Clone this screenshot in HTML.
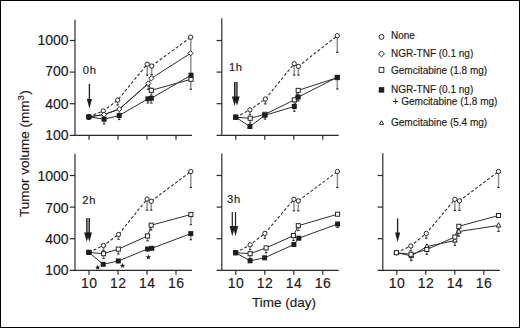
<!DOCTYPE html>
<html><head><meta charset="utf-8"><style>
html,body{margin:0;padding:0;background:#fff;}
#c{position:relative;width:520px;height:328px;box-sizing:border-box;border:1px solid #000;overflow:hidden;background:#fff;}
svg{position:absolute;left:-1px;top:-1px;}
text{font-family:"Liberation Sans",sans-serif;fill:#1a1a1a;stroke:#1a1a1a;stroke-width:0.15px;}
</style></head><body><div id="c">
<svg width="520" height="328" viewBox="0 0 520 328">
<line x1="75.00" y1="19.80" x2="75.00" y2="135.90" stroke="#2b2b2b" stroke-width="1.2" />
<line x1="69.80" y1="135.30" x2="192.00" y2="135.30" stroke="#2b2b2b" stroke-width="1.2" />
<line x1="69.80" y1="103.70" x2="75.00" y2="103.70" stroke="#2b2b2b" stroke-width="1.2" />
<line x1="69.80" y1="72.10" x2="75.00" y2="72.10" stroke="#2b2b2b" stroke-width="1.2" />
<line x1="69.80" y1="40.50" x2="75.00" y2="40.50" stroke="#2b2b2b" stroke-width="1.2" />
<line x1="89.00" y1="135.30" x2="89.00" y2="139.80" stroke="#2b2b2b" stroke-width="1.2" />
<line x1="118.00" y1="135.30" x2="118.00" y2="139.80" stroke="#2b2b2b" stroke-width="1.2" />
<line x1="147.00" y1="135.30" x2="147.00" y2="139.80" stroke="#2b2b2b" stroke-width="1.2" />
<line x1="176.00" y1="135.30" x2="176.00" y2="139.80" stroke="#2b2b2b" stroke-width="1.2" />
<text x="68.60" y="139.80" font-size="14" text-anchor="end" >100</text>
<text x="68.60" y="108.90" font-size="14" text-anchor="end" >400</text>
<text x="68.60" y="75.90" font-size="14" text-anchor="end" >700</text>
<text x="68.60" y="44.80" font-size="14" text-anchor="end" >1000</text>
<line x1="221.80" y1="18.20" x2="221.80" y2="135.90" stroke="#2b2b2b" stroke-width="1.2" />
<line x1="216.60" y1="135.30" x2="338.80" y2="135.30" stroke="#2b2b2b" stroke-width="1.2" />
<line x1="216.60" y1="103.70" x2="221.80" y2="103.70" stroke="#2b2b2b" stroke-width="1.2" />
<line x1="216.60" y1="72.10" x2="221.80" y2="72.10" stroke="#2b2b2b" stroke-width="1.2" />
<line x1="216.60" y1="40.50" x2="221.80" y2="40.50" stroke="#2b2b2b" stroke-width="1.2" />
<line x1="235.80" y1="135.30" x2="235.80" y2="139.80" stroke="#2b2b2b" stroke-width="1.2" />
<line x1="264.80" y1="135.30" x2="264.80" y2="139.80" stroke="#2b2b2b" stroke-width="1.2" />
<line x1="293.80" y1="135.30" x2="293.80" y2="139.80" stroke="#2b2b2b" stroke-width="1.2" />
<line x1="322.80" y1="135.30" x2="322.80" y2="139.80" stroke="#2b2b2b" stroke-width="1.2" />
<line x1="75.00" y1="153.80" x2="75.00" y2="270.90" stroke="#2b2b2b" stroke-width="1.2" />
<line x1="69.80" y1="270.30" x2="192.00" y2="270.30" stroke="#2b2b2b" stroke-width="1.2" />
<line x1="69.80" y1="238.70" x2="75.00" y2="238.70" stroke="#2b2b2b" stroke-width="1.2" />
<line x1="69.80" y1="207.10" x2="75.00" y2="207.10" stroke="#2b2b2b" stroke-width="1.2" />
<line x1="69.80" y1="175.50" x2="75.00" y2="175.50" stroke="#2b2b2b" stroke-width="1.2" />
<line x1="89.00" y1="270.30" x2="89.00" y2="274.80" stroke="#2b2b2b" stroke-width="1.2" />
<text x="89.20" y="287.70" font-size="14" text-anchor="middle" letter-spacing="0.4">10</text>
<line x1="118.00" y1="270.30" x2="118.00" y2="274.80" stroke="#2b2b2b" stroke-width="1.2" />
<text x="118.20" y="287.70" font-size="14" text-anchor="middle" letter-spacing="0.4">12</text>
<line x1="147.00" y1="270.30" x2="147.00" y2="274.80" stroke="#2b2b2b" stroke-width="1.2" />
<text x="147.20" y="287.70" font-size="14" text-anchor="middle" letter-spacing="0.4">14</text>
<line x1="176.00" y1="270.30" x2="176.00" y2="274.80" stroke="#2b2b2b" stroke-width="1.2" />
<text x="176.20" y="287.70" font-size="14" text-anchor="middle" letter-spacing="0.4">16</text>
<text x="68.60" y="275.40" font-size="14" text-anchor="end" >100</text>
<text x="68.60" y="244.00" font-size="14" text-anchor="end" >400</text>
<text x="68.60" y="212.50" font-size="14" text-anchor="end" >700</text>
<text x="68.60" y="181.00" font-size="14" text-anchor="end" >1000</text>
<line x1="221.80" y1="153.40" x2="221.80" y2="270.90" stroke="#2b2b2b" stroke-width="1.2" />
<line x1="216.60" y1="270.30" x2="338.80" y2="270.30" stroke="#2b2b2b" stroke-width="1.2" />
<line x1="216.60" y1="238.70" x2="221.80" y2="238.70" stroke="#2b2b2b" stroke-width="1.2" />
<line x1="216.60" y1="207.10" x2="221.80" y2="207.10" stroke="#2b2b2b" stroke-width="1.2" />
<line x1="216.60" y1="175.50" x2="221.80" y2="175.50" stroke="#2b2b2b" stroke-width="1.2" />
<line x1="235.80" y1="270.30" x2="235.80" y2="274.80" stroke="#2b2b2b" stroke-width="1.2" />
<text x="236.00" y="287.70" font-size="14" text-anchor="middle" letter-spacing="0.4">10</text>
<line x1="264.80" y1="270.30" x2="264.80" y2="274.80" stroke="#2b2b2b" stroke-width="1.2" />
<text x="265.00" y="287.70" font-size="14" text-anchor="middle" letter-spacing="0.4">12</text>
<line x1="293.80" y1="270.30" x2="293.80" y2="274.80" stroke="#2b2b2b" stroke-width="1.2" />
<text x="294.00" y="287.70" font-size="14" text-anchor="middle" letter-spacing="0.4">14</text>
<line x1="322.80" y1="270.30" x2="322.80" y2="274.80" stroke="#2b2b2b" stroke-width="1.2" />
<text x="323.00" y="287.70" font-size="14" text-anchor="middle" letter-spacing="0.4">16</text>
<line x1="382.80" y1="153.20" x2="382.80" y2="270.90" stroke="#2b2b2b" stroke-width="1.2" />
<line x1="377.60" y1="270.30" x2="499.80" y2="270.30" stroke="#2b2b2b" stroke-width="1.2" />
<line x1="377.60" y1="238.70" x2="382.80" y2="238.70" stroke="#2b2b2b" stroke-width="1.2" />
<line x1="377.60" y1="207.10" x2="382.80" y2="207.10" stroke="#2b2b2b" stroke-width="1.2" />
<line x1="377.60" y1="175.50" x2="382.80" y2="175.50" stroke="#2b2b2b" stroke-width="1.2" />
<line x1="396.80" y1="270.30" x2="396.80" y2="274.80" stroke="#2b2b2b" stroke-width="1.2" />
<text x="397.00" y="287.70" font-size="14" text-anchor="middle" letter-spacing="0.4">10</text>
<line x1="425.80" y1="270.30" x2="425.80" y2="274.80" stroke="#2b2b2b" stroke-width="1.2" />
<text x="426.00" y="287.70" font-size="14" text-anchor="middle" letter-spacing="0.4">12</text>
<line x1="454.80" y1="270.30" x2="454.80" y2="274.80" stroke="#2b2b2b" stroke-width="1.2" />
<text x="455.00" y="287.70" font-size="14" text-anchor="middle" letter-spacing="0.4">14</text>
<line x1="483.80" y1="270.30" x2="483.80" y2="274.80" stroke="#2b2b2b" stroke-width="1.2" />
<text x="484.00" y="287.70" font-size="14" text-anchor="middle" letter-spacing="0.4">16</text>
<line x1="147.20" y1="64.20" x2="147.20" y2="75.10" stroke="#909090" stroke-width="1.5" />
<line x1="146.00" y1="75.10" x2="148.40" y2="75.10" stroke="#333" stroke-width="1.2" />
<line x1="151.70" y1="66.00" x2="151.70" y2="74.70" stroke="#909090" stroke-width="1.5" />
<line x1="150.50" y1="74.70" x2="152.90" y2="74.70" stroke="#333" stroke-width="1.2" />
<line x1="148.30" y1="83.50" x2="148.30" y2="89.40" stroke="#909090" stroke-width="1.5" />
<line x1="147.10" y1="89.40" x2="149.50" y2="89.40" stroke="#333" stroke-width="1.2" />
<line x1="190.80" y1="37.20" x2="190.80" y2="89.30" stroke="#909090" stroke-width="1.5" />
<line x1="189.60" y1="89.30" x2="192.00" y2="89.30" stroke="#333" stroke-width="1.2" />
<line x1="104.10" y1="119.20" x2="104.10" y2="123.80" stroke="#909090" stroke-width="1.5" />
<line x1="102.90" y1="123.80" x2="105.30" y2="123.80" stroke="#333" stroke-width="1.2" />
<line x1="119.20" y1="115.60" x2="119.20" y2="119.50" stroke="#909090" stroke-width="1.5" />
<line x1="118.00" y1="119.50" x2="120.40" y2="119.50" stroke="#333" stroke-width="1.2" />
<line x1="147.90" y1="98.80" x2="147.90" y2="103.00" stroke="#909090" stroke-width="1.5" />
<line x1="146.70" y1="103.00" x2="149.10" y2="103.00" stroke="#333" stroke-width="1.2" />
<line x1="151.30" y1="98.30" x2="151.30" y2="103.00" stroke="#909090" stroke-width="1.5" />
<line x1="150.10" y1="103.00" x2="152.50" y2="103.00" stroke="#333" stroke-width="1.2" />
<line x1="103.30" y1="110.90" x2="103.30" y2="115.70" stroke="#909090" stroke-width="1.5" />
<line x1="102.10" y1="115.70" x2="104.50" y2="115.70" stroke="#333" stroke-width="1.2" />
<line x1="117.70" y1="100.10" x2="117.70" y2="104.90" stroke="#909090" stroke-width="1.5" />
<line x1="116.50" y1="104.90" x2="118.90" y2="104.90" stroke="#333" stroke-width="1.2" />
<line x1="151.30" y1="90.30" x2="151.30" y2="95.10" stroke="#909090" stroke-width="1.5" />
<line x1="150.10" y1="95.10" x2="152.50" y2="95.10" stroke="#333" stroke-width="1.2" />
<line x1="104.10" y1="114.60" x2="104.10" y2="119.40" stroke="#909090" stroke-width="1.5" />
<line x1="102.90" y1="119.40" x2="105.30" y2="119.40" stroke="#333" stroke-width="1.2" />
<line x1="119.30" y1="109.10" x2="119.30" y2="113.90" stroke="#909090" stroke-width="1.5" />
<line x1="118.10" y1="113.90" x2="120.50" y2="113.90" stroke="#333" stroke-width="1.2" />
<polyline points="88.80,116.90 103.30,110.90 117.70,100.10 147.20,64.20 151.70,66.00 190.70,37.20" fill="none" stroke="#2e2e2e" stroke-width="1.1" stroke-linejoin="round" stroke-dasharray="3 2"/>
<polyline points="88.80,116.90 104.10,114.60 119.30,109.10 148.30,83.50 151.30,90.30 191.00,79.30" fill="none" stroke="#2e2e2e" stroke-width="1.0" stroke-linejoin="round"/>
<polyline points="88.80,116.90 104.10,114.60 119.30,109.10 148.30,83.50 151.30,78.30 190.60,53.30" fill="none" stroke="#2e2e2e" stroke-width="1.0" stroke-linejoin="round"/>
<polyline points="88.80,116.90 104.10,119.20 119.20,115.60 147.90,98.80 151.30,98.30 191.00,75.20" fill="none" stroke="#2e2e2e" stroke-width="1.0" stroke-linejoin="round"/>
<circle cx="88.80" cy="116.90" r="2.15" fill="#fff" stroke="#1e1e1e" stroke-width="0.95"/>
<circle cx="103.30" cy="110.90" r="2.15" fill="#fff" stroke="#1e1e1e" stroke-width="0.95"/>
<circle cx="117.70" cy="100.10" r="2.15" fill="#fff" stroke="#1e1e1e" stroke-width="0.95"/>
<circle cx="147.20" cy="64.20" r="2.15" fill="#fff" stroke="#1e1e1e" stroke-width="0.95"/>
<circle cx="151.70" cy="66.00" r="2.15" fill="#fff" stroke="#1e1e1e" stroke-width="0.95"/>
<circle cx="190.70" cy="37.20" r="2.15" fill="#fff" stroke="#1e1e1e" stroke-width="0.95"/>
<rect x="149.25" y="88.25" width="4.10" height="4.10" fill="#fff" stroke="#1e1e1e" stroke-width="0.95"/>
<rect x="188.95" y="77.25" width="4.10" height="4.10" fill="#fff" stroke="#1e1e1e" stroke-width="0.95"/>
<path d="M88.80 114.30L91.40 116.90L88.80 119.50L86.20 116.90Z" fill="#fff" stroke="#1e1e1e" stroke-width="0.95"/>
<path d="M104.10 112.00L106.70 114.60L104.10 117.20L101.50 114.60Z" fill="#fff" stroke="#1e1e1e" stroke-width="0.95"/>
<path d="M119.30 106.50L121.90 109.10L119.30 111.70L116.70 109.10Z" fill="#fff" stroke="#1e1e1e" stroke-width="0.95"/>
<path d="M148.30 80.90L150.90 83.50L148.30 86.10L145.70 83.50Z" fill="#fff" stroke="#1e1e1e" stroke-width="0.95"/>
<path d="M151.30 75.70L153.90 78.30L151.30 80.90L148.70 78.30Z" fill="#fff" stroke="#1e1e1e" stroke-width="0.95"/>
<path d="M190.60 50.70L193.20 53.30L190.60 55.90L188.00 53.30Z" fill="#fff" stroke="#1e1e1e" stroke-width="0.95"/>
<rect x="86.30" y="114.40" width="5.00" height="5.00" fill="#1e1e1e"/>
<rect x="101.60" y="116.70" width="5.00" height="5.00" fill="#1e1e1e"/>
<rect x="116.70" y="113.10" width="5.00" height="5.00" fill="#1e1e1e"/>
<rect x="145.40" y="96.30" width="5.00" height="5.00" fill="#1e1e1e"/>
<rect x="148.80" y="95.80" width="5.00" height="5.00" fill="#1e1e1e"/>
<rect x="188.50" y="72.70" width="5.00" height="5.00" fill="#1e1e1e"/>
<circle cx="88.8" cy="116.9" r="2.8" fill="#1e1e1e"/>
<line x1="294.20" y1="63.70" x2="294.20" y2="75.10" stroke="#909090" stroke-width="1.5" />
<line x1="293.00" y1="75.10" x2="295.40" y2="75.10" stroke="#333" stroke-width="1.2" />
<line x1="298.40" y1="66.40" x2="298.40" y2="75.10" stroke="#909090" stroke-width="1.5" />
<line x1="297.20" y1="75.10" x2="299.60" y2="75.10" stroke="#333" stroke-width="1.2" />
<line x1="337.30" y1="35.70" x2="337.30" y2="52.30" stroke="#909090" stroke-width="1.5" />
<line x1="336.10" y1="52.30" x2="338.50" y2="52.30" stroke="#333" stroke-width="1.2" />
<line x1="337.30" y1="77.30" x2="337.30" y2="89.00" stroke="#909090" stroke-width="1.5" />
<line x1="336.10" y1="89.00" x2="338.50" y2="89.00" stroke="#333" stroke-width="1.2" />
<line x1="294.30" y1="106.50" x2="294.30" y2="111.30" stroke="#909090" stroke-width="1.5" />
<line x1="293.10" y1="111.30" x2="295.50" y2="111.30" stroke="#333" stroke-width="1.2" />
<line x1="298.30" y1="97.10" x2="298.30" y2="101.00" stroke="#909090" stroke-width="1.5" />
<line x1="297.10" y1="101.00" x2="299.50" y2="101.00" stroke="#333" stroke-width="1.2" />
<line x1="249.90" y1="109.90" x2="249.90" y2="114.70" stroke="#909090" stroke-width="1.5" />
<line x1="248.70" y1="114.70" x2="251.10" y2="114.70" stroke="#333" stroke-width="1.2" />
<line x1="265.30" y1="99.10" x2="265.30" y2="103.90" stroke="#909090" stroke-width="1.5" />
<line x1="264.10" y1="103.90" x2="266.50" y2="103.90" stroke="#333" stroke-width="1.2" />
<line x1="250.20" y1="118.30" x2="250.20" y2="123.10" stroke="#909090" stroke-width="1.5" />
<line x1="249.00" y1="123.10" x2="251.40" y2="123.10" stroke="#333" stroke-width="1.2" />
<line x1="265.00" y1="114.30" x2="265.00" y2="119.10" stroke="#909090" stroke-width="1.5" />
<line x1="263.80" y1="119.10" x2="266.20" y2="119.10" stroke="#333" stroke-width="1.2" />
<line x1="294.30" y1="99.90" x2="294.30" y2="104.70" stroke="#909090" stroke-width="1.5" />
<line x1="293.10" y1="104.70" x2="295.50" y2="104.70" stroke="#333" stroke-width="1.2" />
<line x1="298.20" y1="90.40" x2="298.20" y2="95.20" stroke="#909090" stroke-width="1.5" />
<line x1="297.00" y1="95.20" x2="299.40" y2="95.20" stroke="#333" stroke-width="1.2" />
<polyline points="235.70,117.20 249.90,109.90 265.30,99.10 294.20,63.70 298.40,66.40 337.30,35.70" fill="none" stroke="#2e2e2e" stroke-width="1.1" stroke-linejoin="round" stroke-dasharray="3 2"/>
<polyline points="235.70,117.20 250.20,118.30 265.00,114.30 294.30,99.90 298.20,90.40 337.30,77.60" fill="none" stroke="#2e2e2e" stroke-width="1.0" stroke-linejoin="round"/>
<polyline points="235.70,117.20 249.90,126.50 264.80,115.30 294.30,106.50 298.20,97.10 337.30,77.30" fill="none" stroke="#2e2e2e" stroke-width="1.0" stroke-linejoin="round"/>
<circle cx="235.70" cy="117.20" r="2.15" fill="#fff" stroke="#1e1e1e" stroke-width="0.95"/>
<circle cx="249.90" cy="109.90" r="2.15" fill="#fff" stroke="#1e1e1e" stroke-width="0.95"/>
<circle cx="265.30" cy="99.10" r="2.15" fill="#fff" stroke="#1e1e1e" stroke-width="0.95"/>
<circle cx="294.20" cy="63.70" r="2.15" fill="#fff" stroke="#1e1e1e" stroke-width="0.95"/>
<circle cx="298.40" cy="66.40" r="2.15" fill="#fff" stroke="#1e1e1e" stroke-width="0.95"/>
<circle cx="337.30" cy="35.70" r="2.15" fill="#fff" stroke="#1e1e1e" stroke-width="0.95"/>
<rect x="233.65" y="115.15" width="4.10" height="4.10" fill="#fff" stroke="#1e1e1e" stroke-width="0.95"/>
<rect x="248.15" y="116.25" width="4.10" height="4.10" fill="#fff" stroke="#1e1e1e" stroke-width="0.95"/>
<rect x="262.95" y="112.25" width="4.10" height="4.10" fill="#fff" stroke="#1e1e1e" stroke-width="0.95"/>
<rect x="292.25" y="97.85" width="4.10" height="4.10" fill="#fff" stroke="#1e1e1e" stroke-width="0.95"/>
<rect x="296.15" y="88.35" width="4.10" height="4.10" fill="#fff" stroke="#1e1e1e" stroke-width="0.95"/>
<rect x="335.25" y="75.55" width="4.10" height="4.10" fill="#fff" stroke="#1e1e1e" stroke-width="0.95"/>
<rect x="233.20" y="114.70" width="5.00" height="5.00" fill="#1e1e1e"/>
<rect x="247.40" y="124.00" width="5.00" height="5.00" fill="#1e1e1e"/>
<rect x="262.30" y="112.80" width="5.00" height="5.00" fill="#1e1e1e"/>
<rect x="291.80" y="104.00" width="5.00" height="5.00" fill="#1e1e1e"/>
<rect x="295.70" y="94.60" width="5.00" height="5.00" fill="#1e1e1e"/>
<rect x="334.80" y="74.80" width="5.00" height="5.00" fill="#1e1e1e"/>
<line x1="147.10" y1="199.10" x2="147.10" y2="210.10" stroke="#909090" stroke-width="1.5" />
<line x1="145.90" y1="210.10" x2="148.30" y2="210.10" stroke="#333" stroke-width="1.2" />
<line x1="151.20" y1="201.30" x2="151.20" y2="210.10" stroke="#909090" stroke-width="1.5" />
<line x1="150.00" y1="210.10" x2="152.40" y2="210.10" stroke="#333" stroke-width="1.2" />
<line x1="190.80" y1="171.50" x2="190.80" y2="187.50" stroke="#909090" stroke-width="1.5" />
<line x1="189.60" y1="187.50" x2="192.00" y2="187.50" stroke="#333" stroke-width="1.2" />
<line x1="190.90" y1="214.50" x2="190.90" y2="224.60" stroke="#909090" stroke-width="1.5" />
<line x1="189.70" y1="224.60" x2="192.10" y2="224.60" stroke="#333" stroke-width="1.2" />
<line x1="190.80" y1="233.60" x2="190.80" y2="239.70" stroke="#909090" stroke-width="1.5" />
<line x1="189.60" y1="239.70" x2="192.00" y2="239.70" stroke="#333" stroke-width="1.2" />
<line x1="103.50" y1="245.50" x2="103.50" y2="250.30" stroke="#909090" stroke-width="1.5" />
<line x1="102.30" y1="250.30" x2="104.70" y2="250.30" stroke="#333" stroke-width="1.2" />
<line x1="118.50" y1="234.50" x2="118.50" y2="239.30" stroke="#909090" stroke-width="1.5" />
<line x1="117.30" y1="239.30" x2="119.70" y2="239.30" stroke="#333" stroke-width="1.2" />
<line x1="103.60" y1="253.70" x2="103.60" y2="258.50" stroke="#909090" stroke-width="1.5" />
<line x1="102.40" y1="258.50" x2="104.80" y2="258.50" stroke="#333" stroke-width="1.2" />
<line x1="118.30" y1="249.10" x2="118.30" y2="253.90" stroke="#909090" stroke-width="1.5" />
<line x1="117.10" y1="253.90" x2="119.50" y2="253.90" stroke="#333" stroke-width="1.2" />
<line x1="147.60" y1="236.00" x2="147.60" y2="240.80" stroke="#909090" stroke-width="1.5" />
<line x1="146.40" y1="240.80" x2="148.80" y2="240.80" stroke="#333" stroke-width="1.2" />
<line x1="151.20" y1="225.20" x2="151.20" y2="230.00" stroke="#909090" stroke-width="1.5" />
<line x1="150.00" y1="230.00" x2="152.40" y2="230.00" stroke="#333" stroke-width="1.2" />
<polyline points="88.90,252.40 103.50,245.50 118.50,234.50 147.10,199.10 151.20,201.30 190.80,171.50" fill="none" stroke="#2e2e2e" stroke-width="1.1" stroke-linejoin="round" stroke-dasharray="3 2"/>
<polyline points="88.90,252.40 103.60,253.70 118.30,249.10 147.60,236.00 151.20,225.20 190.90,214.50" fill="none" stroke="#2e2e2e" stroke-width="1.0" stroke-linejoin="round"/>
<polyline points="88.90,252.40 103.20,264.30 118.30,261.00 147.60,249.00 151.80,248.30 190.80,233.60" fill="none" stroke="#2e2e2e" stroke-width="1.0" stroke-linejoin="round"/>
<circle cx="88.90" cy="252.40" r="2.15" fill="#fff" stroke="#1e1e1e" stroke-width="0.95"/>
<circle cx="103.50" cy="245.50" r="2.15" fill="#fff" stroke="#1e1e1e" stroke-width="0.95"/>
<circle cx="118.50" cy="234.50" r="2.15" fill="#fff" stroke="#1e1e1e" stroke-width="0.95"/>
<circle cx="147.10" cy="199.10" r="2.15" fill="#fff" stroke="#1e1e1e" stroke-width="0.95"/>
<circle cx="151.20" cy="201.30" r="2.15" fill="#fff" stroke="#1e1e1e" stroke-width="0.95"/>
<circle cx="190.80" cy="171.50" r="2.15" fill="#fff" stroke="#1e1e1e" stroke-width="0.95"/>
<rect x="86.85" y="250.35" width="4.10" height="4.10" fill="#fff" stroke="#1e1e1e" stroke-width="0.95"/>
<rect x="101.55" y="251.65" width="4.10" height="4.10" fill="#fff" stroke="#1e1e1e" stroke-width="0.95"/>
<rect x="116.25" y="247.05" width="4.10" height="4.10" fill="#fff" stroke="#1e1e1e" stroke-width="0.95"/>
<rect x="145.55" y="233.95" width="4.10" height="4.10" fill="#fff" stroke="#1e1e1e" stroke-width="0.95"/>
<rect x="149.15" y="223.15" width="4.10" height="4.10" fill="#fff" stroke="#1e1e1e" stroke-width="0.95"/>
<rect x="188.85" y="212.45" width="4.10" height="4.10" fill="#fff" stroke="#1e1e1e" stroke-width="0.95"/>
<rect x="86.40" y="249.90" width="5.00" height="5.00" fill="#1e1e1e"/>
<rect x="100.70" y="261.80" width="5.00" height="5.00" fill="#1e1e1e"/>
<rect x="115.80" y="258.50" width="5.00" height="5.00" fill="#1e1e1e"/>
<rect x="145.10" y="246.50" width="5.00" height="5.00" fill="#1e1e1e"/>
<rect x="149.30" y="245.80" width="5.00" height="5.00" fill="#1e1e1e"/>
<rect x="188.30" y="231.10" width="5.00" height="5.00" fill="#1e1e1e"/>
<path d="M97.70 264.70L98.39 266.55L100.36 266.63L98.82 267.86L99.35 269.77L97.70 268.68L96.05 269.77L96.58 267.86L95.04 266.63L97.01 266.55Z" fill="#1e1e1e"/>
<path d="M122.50 263.00L123.19 264.85L125.16 264.93L123.62 266.16L124.15 268.07L122.50 266.98L120.85 268.07L121.38 266.16L119.84 264.93L121.81 264.85Z" fill="#1e1e1e"/>
<path d="M148.30 254.40L148.99 256.25L150.96 256.33L149.42 257.56L149.95 259.47L148.30 258.38L146.65 259.47L147.18 257.56L145.64 256.33L147.61 256.25Z" fill="#1e1e1e"/>
<line x1="293.90" y1="199.30" x2="293.90" y2="210.80" stroke="#909090" stroke-width="1.5" />
<line x1="292.70" y1="210.80" x2="295.10" y2="210.80" stroke="#333" stroke-width="1.2" />
<line x1="298.30" y1="200.90" x2="298.30" y2="210.80" stroke="#909090" stroke-width="1.5" />
<line x1="297.10" y1="210.80" x2="299.50" y2="210.80" stroke="#333" stroke-width="1.2" />
<line x1="337.40" y1="171.50" x2="337.40" y2="187.50" stroke="#909090" stroke-width="1.5" />
<line x1="336.20" y1="187.50" x2="338.60" y2="187.50" stroke="#333" stroke-width="1.2" />
<line x1="337.60" y1="224.00" x2="337.60" y2="227.50" stroke="#909090" stroke-width="1.5" />
<line x1="336.40" y1="227.50" x2="338.80" y2="227.50" stroke="#333" stroke-width="1.2" />
<line x1="250.10" y1="244.80" x2="250.10" y2="249.60" stroke="#909090" stroke-width="1.5" />
<line x1="248.90" y1="249.60" x2="251.30" y2="249.60" stroke="#333" stroke-width="1.2" />
<line x1="264.90" y1="233.40" x2="264.90" y2="238.20" stroke="#909090" stroke-width="1.5" />
<line x1="263.70" y1="238.20" x2="266.10" y2="238.20" stroke="#333" stroke-width="1.2" />
<line x1="250.10" y1="253.70" x2="250.10" y2="258.50" stroke="#909090" stroke-width="1.5" />
<line x1="248.90" y1="258.50" x2="251.30" y2="258.50" stroke="#333" stroke-width="1.2" />
<line x1="266.10" y1="247.90" x2="266.10" y2="252.70" stroke="#909090" stroke-width="1.5" />
<line x1="264.90" y1="252.70" x2="267.30" y2="252.70" stroke="#333" stroke-width="1.2" />
<line x1="293.50" y1="235.60" x2="293.50" y2="240.40" stroke="#909090" stroke-width="1.5" />
<line x1="292.30" y1="240.40" x2="294.70" y2="240.40" stroke="#333" stroke-width="1.2" />
<line x1="298.30" y1="225.70" x2="298.30" y2="230.50" stroke="#909090" stroke-width="1.5" />
<line x1="297.10" y1="230.50" x2="299.50" y2="230.50" stroke="#333" stroke-width="1.2" />
<polyline points="235.60,252.70 250.10,244.80 264.90,233.40 293.90,199.30 298.30,200.90 337.40,171.50" fill="none" stroke="#2e2e2e" stroke-width="1.1" stroke-linejoin="round" stroke-dasharray="3 2"/>
<polyline points="235.60,252.70 250.10,253.70 266.10,247.90 293.50,235.60 298.30,225.70 337.60,214.20" fill="none" stroke="#2e2e2e" stroke-width="1.0" stroke-linejoin="round"/>
<polyline points="235.60,252.70 250.10,260.80 264.60,257.80 293.90,244.50 298.80,238.20 337.60,224.00" fill="none" stroke="#2e2e2e" stroke-width="1.0" stroke-linejoin="round"/>
<circle cx="235.60" cy="252.70" r="2.15" fill="#fff" stroke="#1e1e1e" stroke-width="0.95"/>
<circle cx="250.10" cy="244.80" r="2.15" fill="#fff" stroke="#1e1e1e" stroke-width="0.95"/>
<circle cx="264.90" cy="233.40" r="2.15" fill="#fff" stroke="#1e1e1e" stroke-width="0.95"/>
<circle cx="293.90" cy="199.30" r="2.15" fill="#fff" stroke="#1e1e1e" stroke-width="0.95"/>
<circle cx="298.30" cy="200.90" r="2.15" fill="#fff" stroke="#1e1e1e" stroke-width="0.95"/>
<circle cx="337.40" cy="171.50" r="2.15" fill="#fff" stroke="#1e1e1e" stroke-width="0.95"/>
<rect x="233.55" y="250.65" width="4.10" height="4.10" fill="#fff" stroke="#1e1e1e" stroke-width="0.95"/>
<rect x="248.05" y="251.65" width="4.10" height="4.10" fill="#fff" stroke="#1e1e1e" stroke-width="0.95"/>
<rect x="264.05" y="245.85" width="4.10" height="4.10" fill="#fff" stroke="#1e1e1e" stroke-width="0.95"/>
<rect x="291.45" y="233.55" width="4.10" height="4.10" fill="#fff" stroke="#1e1e1e" stroke-width="0.95"/>
<rect x="296.25" y="223.65" width="4.10" height="4.10" fill="#fff" stroke="#1e1e1e" stroke-width="0.95"/>
<rect x="335.55" y="212.15" width="4.10" height="4.10" fill="#fff" stroke="#1e1e1e" stroke-width="0.95"/>
<rect x="233.10" y="250.20" width="5.00" height="5.00" fill="#1e1e1e"/>
<rect x="247.60" y="258.30" width="5.00" height="5.00" fill="#1e1e1e"/>
<rect x="262.10" y="255.30" width="5.00" height="5.00" fill="#1e1e1e"/>
<rect x="291.40" y="242.00" width="5.00" height="5.00" fill="#1e1e1e"/>
<rect x="296.30" y="235.70" width="5.00" height="5.00" fill="#1e1e1e"/>
<rect x="335.10" y="221.50" width="5.00" height="5.00" fill="#1e1e1e"/>
<line x1="454.90" y1="199.30" x2="454.90" y2="210.40" stroke="#909090" stroke-width="1.5" />
<line x1="453.70" y1="210.40" x2="456.10" y2="210.40" stroke="#333" stroke-width="1.2" />
<line x1="459.40" y1="200.90" x2="459.40" y2="210.40" stroke="#909090" stroke-width="1.5" />
<line x1="458.20" y1="210.40" x2="460.60" y2="210.40" stroke="#333" stroke-width="1.2" />
<line x1="498.50" y1="171.50" x2="498.50" y2="187.50" stroke="#909090" stroke-width="1.5" />
<line x1="497.30" y1="187.50" x2="499.70" y2="187.50" stroke="#333" stroke-width="1.2" />
<line x1="498.50" y1="225.40" x2="498.50" y2="231.40" stroke="#909090" stroke-width="1.5" />
<line x1="497.30" y1="231.40" x2="499.70" y2="231.40" stroke="#333" stroke-width="1.2" />
<line x1="410.80" y1="246.00" x2="410.80" y2="250.80" stroke="#909090" stroke-width="1.5" />
<line x1="409.60" y1="250.80" x2="412.00" y2="250.80" stroke="#333" stroke-width="1.2" />
<line x1="426.30" y1="233.40" x2="426.30" y2="238.20" stroke="#909090" stroke-width="1.5" />
<line x1="425.10" y1="238.20" x2="427.50" y2="238.20" stroke="#333" stroke-width="1.2" />
<line x1="411.00" y1="254.30" x2="411.00" y2="259.10" stroke="#909090" stroke-width="1.5" />
<line x1="409.80" y1="259.10" x2="412.20" y2="259.10" stroke="#333" stroke-width="1.2" />
<line x1="426.80" y1="249.50" x2="426.80" y2="254.30" stroke="#909090" stroke-width="1.5" />
<line x1="425.60" y1="254.30" x2="428.00" y2="254.30" stroke="#333" stroke-width="1.2" />
<line x1="454.90" y1="237.00" x2="454.90" y2="241.80" stroke="#909090" stroke-width="1.5" />
<line x1="453.70" y1="241.80" x2="456.10" y2="241.80" stroke="#333" stroke-width="1.2" />
<line x1="458.80" y1="226.30" x2="458.80" y2="231.10" stroke="#909090" stroke-width="1.5" />
<line x1="457.60" y1="231.10" x2="460.00" y2="231.10" stroke="#333" stroke-width="1.2" />
<line x1="411.30" y1="255.80" x2="411.30" y2="260.60" stroke="#909090" stroke-width="1.5" />
<line x1="410.10" y1="260.60" x2="412.50" y2="260.60" stroke="#333" stroke-width="1.2" />
<line x1="427.00" y1="246.50" x2="427.00" y2="251.30" stroke="#909090" stroke-width="1.5" />
<line x1="425.80" y1="251.30" x2="428.20" y2="251.30" stroke="#333" stroke-width="1.2" />
<line x1="454.90" y1="240.50" x2="454.90" y2="245.30" stroke="#909090" stroke-width="1.5" />
<line x1="453.70" y1="245.30" x2="456.10" y2="245.30" stroke="#333" stroke-width="1.2" />
<line x1="458.80" y1="231.50" x2="458.80" y2="236.30" stroke="#909090" stroke-width="1.5" />
<line x1="457.60" y1="236.30" x2="460.00" y2="236.30" stroke="#333" stroke-width="1.2" />
<polyline points="396.40,252.70 410.80,246.00 426.30,233.40 454.90,199.30 459.40,200.90 498.50,171.50" fill="none" stroke="#2e2e2e" stroke-width="1.1" stroke-linejoin="round" stroke-dasharray="3 2"/>
<polyline points="396.40,252.70 411.30,255.80 427.00,246.50 454.90,240.50 458.80,231.50 498.50,225.40" fill="none" stroke="#2e2e2e" stroke-width="1.0" stroke-linejoin="round"/>
<polyline points="396.40,252.70 411.00,254.30 426.80,249.50 454.90,237.00 458.80,226.30 498.50,215.50" fill="none" stroke="#2e2e2e" stroke-width="1.0" stroke-linejoin="round"/>
<circle cx="396.40" cy="252.70" r="2.15" fill="#fff" stroke="#1e1e1e" stroke-width="0.95"/>
<circle cx="410.80" cy="246.00" r="2.15" fill="#fff" stroke="#1e1e1e" stroke-width="0.95"/>
<circle cx="426.30" cy="233.40" r="2.15" fill="#fff" stroke="#1e1e1e" stroke-width="0.95"/>
<circle cx="454.90" cy="199.30" r="2.15" fill="#fff" stroke="#1e1e1e" stroke-width="0.95"/>
<circle cx="459.40" cy="200.90" r="2.15" fill="#fff" stroke="#1e1e1e" stroke-width="0.95"/>
<circle cx="498.50" cy="171.50" r="2.15" fill="#fff" stroke="#1e1e1e" stroke-width="0.95"/>
<path d="M396.40 250.00L398.83 254.32L393.97 254.32Z" fill="#fff" stroke="#1e1e1e" stroke-width="0.95"/>
<path d="M411.30 253.10L413.73 257.42L408.87 257.42Z" fill="#fff" stroke="#1e1e1e" stroke-width="0.95"/>
<path d="M427.00 243.80L429.43 248.12L424.57 248.12Z" fill="#fff" stroke="#1e1e1e" stroke-width="0.95"/>
<path d="M454.90 237.80L457.33 242.12L452.47 242.12Z" fill="#fff" stroke="#1e1e1e" stroke-width="0.95"/>
<path d="M458.80 228.80L461.23 233.12L456.37 233.12Z" fill="#fff" stroke="#1e1e1e" stroke-width="0.95"/>
<path d="M498.50 222.70L500.93 227.02L496.07 227.02Z" fill="#fff" stroke="#1e1e1e" stroke-width="0.95"/>
<rect x="394.35" y="250.65" width="4.10" height="4.10" fill="#fff" stroke="#1e1e1e" stroke-width="0.95"/>
<rect x="408.95" y="252.25" width="4.10" height="4.10" fill="#fff" stroke="#1e1e1e" stroke-width="0.95"/>
<rect x="424.75" y="247.45" width="4.10" height="4.10" fill="#fff" stroke="#1e1e1e" stroke-width="0.95"/>
<rect x="452.85" y="234.95" width="4.10" height="4.10" fill="#fff" stroke="#1e1e1e" stroke-width="0.95"/>
<rect x="456.75" y="224.25" width="4.10" height="4.10" fill="#fff" stroke="#1e1e1e" stroke-width="0.95"/>
<rect x="496.45" y="213.45" width="4.10" height="4.10" fill="#fff" stroke="#1e1e1e" stroke-width="0.95"/>
<line x1="89.40" y1="83.80" x2="89.40" y2="99.90" stroke="#1e1e1e" stroke-width="1.3" />
<path d="M86.80 98.90L92.00 98.90L89.40 108.40Z" fill="#1e1e1e"/>
<text x="89.40" y="73.70" font-size="11.2" text-anchor="middle" letter-spacing="0.7" dx="0.35">0h</text>
<rect x="234.60" y="81.90" width="2.40" height="14.60" fill="#9a9a9a"/>
<line x1="234.60" y1="81.90" x2="234.60" y2="97.50" stroke="#1e1e1e" stroke-width="1.2" />
<line x1="237.00" y1="81.90" x2="237.00" y2="97.50" stroke="#1e1e1e" stroke-width="1.2" />
<path d="M231.90 96.50L237.30 96.50L234.60 105.80Z" fill="#1e1e1e"/>
<path d="M234.30 96.50L239.70 96.50L237.00 105.80Z" fill="#1e1e1e"/>
<text x="235.50" y="70.80" font-size="11.2" text-anchor="middle" letter-spacing="0.7" dx="0.35">1h</text>
<rect x="86.80" y="218.10" width="2.50" height="14.40" fill="#b0b0b0"/>
<line x1="86.80" y1="218.10" x2="86.80" y2="233.50" stroke="#1e1e1e" stroke-width="1.2" />
<line x1="89.30" y1="218.10" x2="89.30" y2="233.50" stroke="#1e1e1e" stroke-width="1.2" />
<path d="M84.10 232.50L89.50 232.50L86.80 241.80Z" fill="#1e1e1e"/>
<path d="M86.60 232.50L92.00 232.50L89.30 241.80Z" fill="#1e1e1e"/>
<text x="88.90" y="203.70" font-size="11.2" text-anchor="middle" letter-spacing="0.7" dx="0.35">2h</text>
<line x1="232.30" y1="211.90" x2="232.30" y2="227.00" stroke="#1e1e1e" stroke-width="1.2" />
<line x1="235.50" y1="211.90" x2="235.50" y2="227.00" stroke="#1e1e1e" stroke-width="1.2" />
<path d="M229.60 226.00L235.00 226.00L232.30 236.30Z" fill="#1e1e1e"/>
<path d="M232.80 226.00L238.20 226.00L235.50 236.30Z" fill="#1e1e1e"/>
<text x="233.70" y="202.50" font-size="11.2" text-anchor="middle" letter-spacing="0.7" dx="0.35">3h</text>
<line x1="397.60" y1="218.40" x2="397.60" y2="233.40" stroke="#1e1e1e" stroke-width="1.3" />
<path d="M395.00 232.40L400.20 232.40L397.60 242.10Z" fill="#1e1e1e"/>
<circle cx="381.50" cy="36.90" r="2.47" fill="#fff" stroke="#1e1e1e" stroke-width="0.95"/>
<text x="391.00" y="38.50" font-size="10" text-anchor="start" >None</text>
<path d="M381.50 50.91L384.49 53.90L381.50 56.89L378.51 53.90Z" fill="#fff" stroke="#1e1e1e" stroke-width="0.95"/>
<text x="391.00" y="56.70" font-size="10" text-anchor="start" >NGR-TNF (0.1 ng)</text>
<rect x="379.14" y="67.64" width="4.71" height="4.71" fill="#fff" stroke="#1e1e1e" stroke-width="0.95"/>
<text x="391.00" y="73.70" font-size="10" text-anchor="start" >Gemcitabine (1.8 mg)</text>
<rect x="378.75" y="87.15" width="5.50" height="5.50" fill="#1e1e1e"/>
<text x="391.00" y="92.90" font-size="10" text-anchor="start" >NGR-TNF (0.1 ng)</text>
<path d="M381.50 120.70L383.57 124.38L379.43 124.38Z" fill="#fff" stroke="#1e1e1e" stroke-width="0.95"/>
<text x="391.00" y="125.80" font-size="10" text-anchor="start" >Gemcitabine (5.4 mg)</text>
<text x="392.60" y="105.40" font-size="10" text-anchor="start" >+ Gemcitabine (1.8 mg)</text>
<text x="0.00" y="0.00" font-size="13.5" text-anchor="middle" transform="translate(28.7,153.7) rotate(-90)">Tumor volume (mm<tspan font-size="9.5" dy="-4.3">3</tspan><tspan dy="4.3" dx="0.5">)</tspan></text>
<text x="284.00" y="306.80" font-size="13.5" text-anchor="middle" >Time (day)</text>
</svg></div></body></html>
